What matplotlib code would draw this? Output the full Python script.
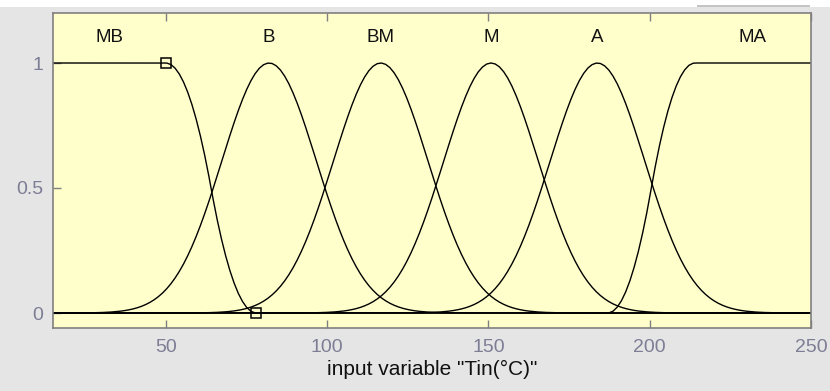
import matplotlib
matplotlib.use("Agg")
import matplotlib.pyplot as plt
import numpy as np
from matplotlib.patches import Rectangle

plt.rcParams['font.family'] = ['Liberation Sans', 'DejaVu Sans']

# membership functions of input "Tin(°C)" (parameters)
x_range = [15, 250]
mf_names = ["MB", "B", "BM", "M", "A", "MA"]
zmf_MB = [50, 78]           # Z-shaped, 1 -> 0
gauss_names = ["B", "BM", "M", "A"]
gauss_centers = [82, 116.6, 150.8, 183.8]
gauss_sigma = [14.7, 14.7, 14.7, 14.7]
smf_MA = [187, 214]         # S-shaped, 0 -> 1
label_x = [32.5, 82, 116.6, 150.8, 183.8, 232]
selected_pts_x = [50, 78]   # squares of the selected MF (MB)
selected_pts_y = [1, 0]

x = np.linspace(x_range[0], x_range[1], 181)


def zmf(v, a, b):
    m = (a + b) / 2
    return np.where(v <= a, 1.0,
           np.where(v <= m, 1 - 2 * ((v - a) / (b - a)) ** 2,
           np.where(v <= b, 2 * ((v - b) / (b - a)) ** 2, 0.0)))


def smf(v, a, b):
    return 1 - zmf(v, a, b)


def gaussmf(v, c, s):
    return np.exp(-(v - c) ** 2 / (2 * s ** 2))


fig = plt.figure(figsize=(8.3, 3.91), dpi=100, facecolor='#e5e5e5')
ax = fig.add_axes([53 / 830, 63 / 391, 758 / 830, 315 / 391])
ax.set_facecolor('#ffffcc')

# screenshot strip at top
fig.patches.append(Rectangle((0, 384 / 391), 1, 7 / 391, transform=fig.transFigure,
                             facecolor='white', edgecolor='none', zorder=0))
fig.patches.append(Rectangle((697 / 830, 384 / 391), 113 / 830, 2 / 391, transform=fig.transFigure,
                             facecolor='#c4c4c4', edgecolor='none', zorder=0))

lw = 1.0
ax.plot(x, zmf(x, *zmf_MB), color='black', lw=lw)
for c, s in zip(gauss_centers, gauss_sigma):
    ax.plot(x, gaussmf(x, c, s), color='black', lw=lw)
ax.plot(x, smf(x, *smf_MA), color='black', lw=lw)

ax.plot(selected_pts_x, selected_pts_y, ls='none', marker='s', ms=6.5,
        mfc='none', mec='black', mew=1.1, clip_on=False)

for name, lx in zip(mf_names, label_x):
    ax.text(lx, 1.1, name, ha='center', va='center', fontsize=13.5, color='#111111')

ax.set_xlim(x_range)
ax.set_ylim(-0.06, 1.2)
ax.set_xticks([50, 100, 150, 200, 250])
ax.set_yticks([0, 0.5, 1])
ax.set_yticklabels(["0", "0.5", "1"])
ax.tick_params(direction='in', length=6, width=1, color='#808080',
               labelcolor='#7d7d96', labelsize=14, top=True, right=False)
ax.tick_params(axis='x', pad=8)
ax.tick_params(axis='y', pad=7)
for sp in ax.spines.values():
    sp.set_color('#808080')
    sp.set_linewidth(1.2)

ax.set_xlabel('input variable "Tin(°C)"', fontsize=15, color='#111111', labelpad=3)

fig.savefig("out.png", dpi=100, facecolor=fig.get_facecolor())
